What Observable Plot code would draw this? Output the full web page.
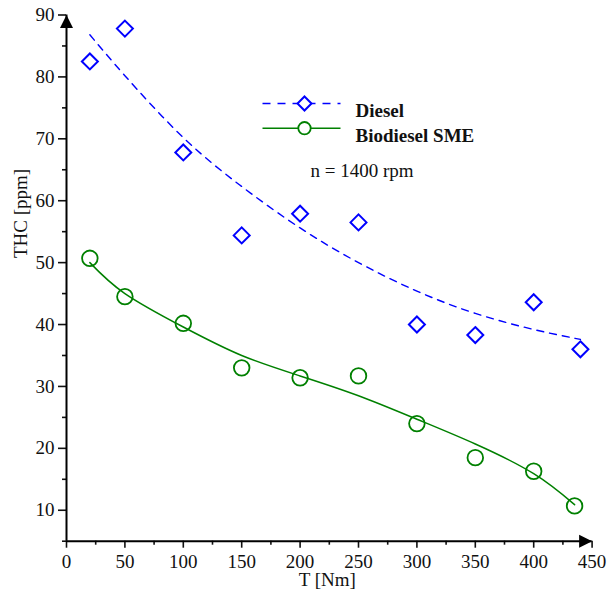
<!DOCTYPE html>
<html>
<head>
<meta charset="utf-8">
<script src="https://cdn.jsdelivr.net/npm/d3@7"></script>
<script src="https://cdn.jsdelivr.net/npm/@observablehq/plot@0.6"></script>
<style>
  html, body { margin: 0; padding: 0; background: #fff; }
  #chart { width: 607px; height: 596px; }
</style>
</head>
<body>
<div id="chart"></div>
<script>
// Torque values (Nm) at which THC was measured
const torqueDiesel = [20, 50, 100, 150, 200, 250, 300, 350, 400, 440];
const torqueBio = [20, 50, 100, 150, 200, 250, 300, 350, 400, 435];

// Measured THC (ppm)
const thcDiesel = [82.5, 87.8, 67.8, 54.4, 57.9, 56.5, 40.0, 38.3, 43.6, 36.0];
const thcBio = [50.7, 44.5, 40.2, 33.0, 31.4, 31.7, 24.0, 18.5, 16.3, 10.7];

// Trend curves through the measurements
const trendTorqueDiesel = [20, 50, 100, 150, 200, 250, 300, 350, 400, 440];
const trendDiesel = [86.8, 80.2, 70.2, 62.3, 55.6, 50.0, 45.4, 41.8, 39.2, 37.6];
const trendTorqueBio = [20, 50, 100, 150, 200, 250, 300, 350, 400, 435];
const trendBio = [50.0, 45.0, 39.6, 35.0, 31.7, 28.5, 24.7, 20.7, 15.9, 10.9];

// Axis ticks
const xMajor = [0, 50, 100, 150, 200, 250, 300, 350, 400, 450];
const xMinor = [25, 75, 125, 175, 225, 275, 325, 375, 425];
const yMajor = [10, 20, 30, 40, 50, 60, 70, 80, 90];
const yMinor = [5, 15, 25, 35, 45, 55, 65, 75, 85];

const seriesNames = ["Diesel", "Biodiesel SME"];
const note = "n = 1400 rpm";
const xTitle = "T [Nm]";
const yTitle = "THC [ppm]";

const pts = (xs, ys) => xs.map((x, i) => ({x, y: ys[i]}));
const diesel = pts(torqueDiesel, thcDiesel);
const bio = pts(torqueBio, thcBio);
const dieselTrend = pts(trendTorqueDiesel, trendDiesel);
const bioTrend = pts(trendTorqueBio, trendBio);

const BLUE = "#0000ff";
const GREEN = "#008000";
const FONT = "Liberation Serif, Times New Roman, serif";

// Filled arrowhead with its tip at the anchor point, pointing up
const arrowHead = {
  draw(ctx) {
    ctx.moveTo(0, 0);
    ctx.lineTo(6.5, 13);
    ctx.lineTo(-6.5, 13);
    ctx.closePath();
  }
};
// Short horizontal stroke used as a legend sample
const legendSeg = {
  draw(ctx) {
    ctx.moveTo(-39, 0);
    ctx.lineTo(39, 0);
  }
};

const chart = Plot.plot({
  width: 607,
  height: 596,
  marginLeft: 66,
  marginRight: 15.4,
  marginTop: 14.5,
  marginBottom: 55.3,
  style: {fontFamily: FONT, fontSize: "19px", color: "#111", background: "#fff"},
  x: {domain: [0, 450]},
  y: {domain: [5, 90]},
  marks: [
    // minor ticks
    Plot.axisX({ticks: xMinor, tickSize: 4, tickFormat: () => "", label: null, strokeWidth: 1.6}),
    Plot.axisY({ticks: yMinor, tickSize: 4, tickFormat: () => "", label: null, strokeWidth: 1.6}),
    // major ticks with labels
    Plot.axisX({ticks: xMajor, tickSize: 7, tickPadding: 6, label: null, strokeWidth: 1.6, fontSize: 19}),
    Plot.axisY({ticks: yMajor, tickSize: 8, tickPadding: 4, label: null, strokeWidth: 1.6, fontSize: 19}),
    // axis lines
    Plot.ruleX([0], {stroke: "black", strokeWidth: 2}),
    Plot.ruleY([5], {stroke: "black", strokeWidth: 2}),
    // arrowheads
    Plot.dot([{x: 0, y: 90}], {x: "x", y: "y", symbol: arrowHead, fill: "black", stroke: "none"}),
    Plot.dot([{x: 450, y: 5}], {x: "x", y: "y", symbol: arrowHead, fill: "black", stroke: "none", rotate: 90}),
    // axis titles
    Plot.text([xTitle], {frameAnchor: "bottom", dx: -2, dy: 45, text: d => d, fontSize: 19, fill: "#111"}),
    Plot.text([yTitle], {frameAnchor: "left", dx: -46, dy: -20, rotate: -90, text: d => d, fontSize: 19, fill: "#111"}),
    // trend curves
    Plot.line(dieselTrend, {x: "x", y: "y", stroke: BLUE, strokeWidth: 1.4, strokeDasharray: "7,6", curve: "natural"}),
    Plot.line(bioTrend, {x: "x", y: "y", stroke: GREEN, strokeWidth: 1.5, curve: "natural"}),
    // measurements
    Plot.dot(diesel, {x: "x", y: "y", symbol: "diamond2", r: 7.2, stroke: BLUE, strokeWidth: 2, fill: "none"}),
    Plot.dot(bio, {x: "x", y: "y", symbol: "circle", r: 7.8, stroke: GREEN, strokeWidth: 1.8, fill: "none"}),
    // legend
    Plot.dot([seriesNames[0]], {frameAnchor: "top-left", dx: 235, dy: 88.5, symbol: legendSeg, stroke: BLUE, strokeWidth: 1.4, strokeDasharray: "8,7", fill: "none"}),
    Plot.dot([seriesNames[0]], {frameAnchor: "top-left", dx: 238, dy: 88.5, symbol: "diamond2", r: 6.3, stroke: BLUE, strokeWidth: 2, fill: "white"}),
    Plot.text([seriesNames[0]], {frameAnchor: "top-left", dx: 289, dy: 88.5, text: d => d, textAnchor: "start", fontWeight: "bold", fontSize: 19, fill: "#111"}),
    Plot.dot([seriesNames[1]], {frameAnchor: "top-left", dx: 235, dy: 113.2, symbol: legendSeg, stroke: GREEN, strokeWidth: 1.5, fill: "none"}),
    Plot.dot([seriesNames[1]], {frameAnchor: "top-left", dx: 238, dy: 113.2, symbol: "circle", r: 6.2, stroke: GREEN, strokeWidth: 1.8, fill: "white"}),
    Plot.text([seriesNames[1]], {frameAnchor: "top-left", dx: 289, dy: 113.2, text: d => d, textAnchor: "start", fontWeight: "bold", fontSize: 19, fill: "#111"}),
    Plot.text([note], {frameAnchor: "top-left", dx: 295.5, dy: 148, text: d => d, textAnchor: "middle", fontSize: 19, fill: "#111"})
  ]
});

document.getElementById("chart").appendChild(chart);
</script>
</body>
</html>
